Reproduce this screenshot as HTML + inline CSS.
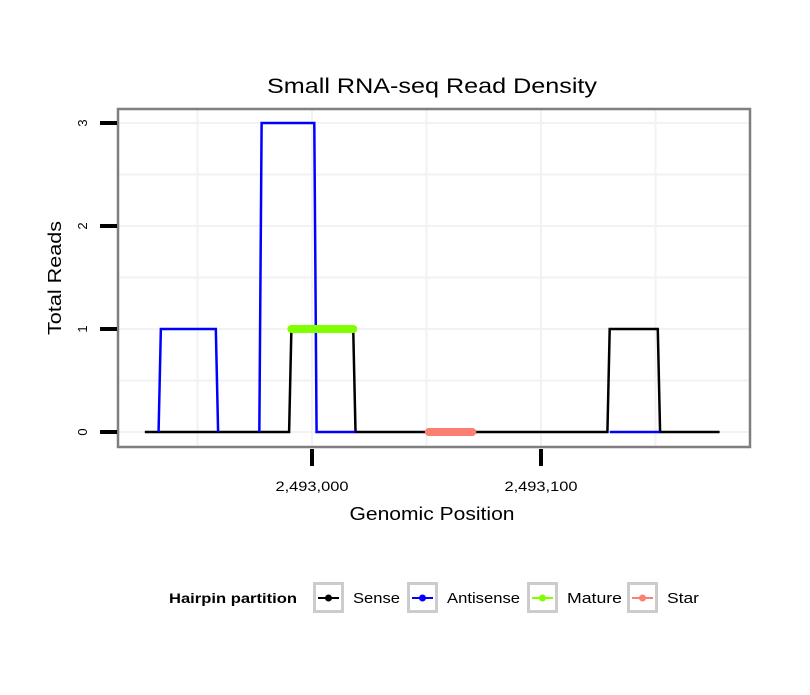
<!DOCTYPE html>
<html><head><meta charset="utf-8"><style>
body{margin:0;background:#fff}
svg text{font-family:"Liberation Sans",sans-serif}
</style></head><body>
<svg id="c" width="810" height="690" xmlns="http://www.w3.org/2000/svg">
<rect width="810" height="690" fill="#fff"/>
<text x="432" y="93" font-size="21" text-anchor="middle" textLength="330" lengthAdjust="spacingAndGlyphs">Small RNA-seq Read Density</text>
<g id="grid"></g>
<g id="series"></g>
<rect x="118" y="109" width="632" height="338" fill="none" stroke="#7f7f7f" stroke-width="2.5"/>
<g id="axes"></g>
<text x="432" y="520" font-size="18" text-anchor="middle" textLength="165" lengthAdjust="spacingAndGlyphs">Genomic Position</text>
<text transform="translate(61,278) rotate(-90)" font-size="18" text-anchor="middle" textLength="114" lengthAdjust="spacingAndGlyphs">Total Reads</text>
<g id="legend">
<text x="169" y="603" font-size="14" font-weight="bold" textLength="128" lengthAdjust="spacingAndGlyphs">Hairpin partition</text>
</g>
</svg>
<script>
const senseStart=[-73,-9,19,130,152];
const senseEnd=[-10,18,129,151,178];
const senseVal=[0,1,0,1,0];
const antiSegments=[
 {start:[-67,-66,-41],end:[-67,-42,-41],val:[0,1,0]},
 {start:[-23,-22,2],end:[-23,1,19],val:[0,3,0]},
 {start:[130],end:[152],val:[0]}
];
const matureRange=[-9,18];const matureVal=1;
const starRange=[51,70];const starVal=0;
const xTickVals=[0,100];
const xTickLabels=["2,493,000","2,493,100"];
const yTickVals=[0,1,2,3];
const X=v=>312+v*2.29;
const Y=v=>432-v*103;
const NS="http://www.w3.org/2000/svg";
function mk(tag,attrs,parent){const e=document.createElementNS(NS,tag);for(const k in attrs)e.setAttribute(k,attrs[k]);parent.appendChild(e);return e;}
const grid=document.getElementById('grid'),series=document.getElementById('series'),axes=document.getElementById('axes'),legend=document.getElementById('legend');
[-50,0,50,100,150].forEach(v=>{const l=mk('line',{x1:X(v),x2:X(v),y1:110,y2:446,stroke:'#f2f2f2','stroke-width':2},grid);

});
[0,0.5,1,1.5,2,2.5,3].forEach(v=>{const l=mk('line',{x1:119,x2:749,y1:Y(v),y2:Y(v),stroke:'#f2f2f2','stroke-width':2},grid);

});
function pts(st,en,vl){const p=[];for(let i=0;i<st.length;i++){p.push(X(st[i])+','+Y(vl[i]));if(en[i]!==st[i])p.push(X(en[i])+','+Y(vl[i]));}return p.join(' ');}
const s=mk('polyline',{points:pts(senseStart,senseEnd,senseVal),fill:'none',stroke:'#000','stroke-width':2.5},series);


antiSegments.forEach(sg=>{const a=mk('polyline',{points:pts(sg.start,sg.end,sg.val),fill:'none',stroke:'#0000ff','stroke-width':2.5},series);

});
const m=mk('line',{x1:X(matureRange[0]),x2:X(matureRange[1]),y1:Y(matureVal),y2:Y(matureVal),stroke:'#7fff00','stroke-width':8,'stroke-linecap':'round'},series);


const st=mk('line',{x1:X(starRange[0]),x2:X(starRange[1]),y1:Y(starVal),y2:Y(starVal),stroke:'#fa8072','stroke-width':8,'stroke-linecap':'round'},series);


yTickVals.forEach(v=>{const t=mk('line',{x1:100,x2:117,y1:Y(v),y2:Y(v),stroke:'#000','stroke-width':4},axes);


const tx=mk('text',{transform:`translate(87,${Y(v)}) rotate(-90)`,'font-size':13,'text-anchor':'middle'},axes);tx.textContent=v;

});
xTickVals.forEach((v,i)=>{const t=mk('line',{x1:X(v),x2:X(v),y1:449,y2:466,stroke:'#000','stroke-width':4},axes);


const tx=mk('text',{x:X(v),y:491,'font-size':14,'text-anchor':'middle',textLength:73,lengthAdjust:'spacingAndGlyphs'},axes);tx.textContent=xTickLabels[i];

});
const items=[["Sense","#000",313,47],["Antisense","#0000ff",407,73],["Mature","#7fff00",527,55],["Star","#fa8072",627,32]];
items.forEach(([n,c,x,w])=>{const g=mk('g',{},legend);


mk('rect',{x:x+1.5,y:583.5,width:28,height:28,fill:'#fff',stroke:'#cccccc','stroke-width':3},g);
mk('line',{x1:x+5,x2:x+26,y1:598,y2:598,stroke:c,'stroke-width':2},g);
mk('circle',{cx:x+15.5,cy:598,r:3.5,fill:c},g);
const t=mk('text',{x:x+40,y:603,'font-size':15,textLength:w,lengthAdjust:'spacingAndGlyphs'},g);t.textContent=n;});
</script>
</body></html>
